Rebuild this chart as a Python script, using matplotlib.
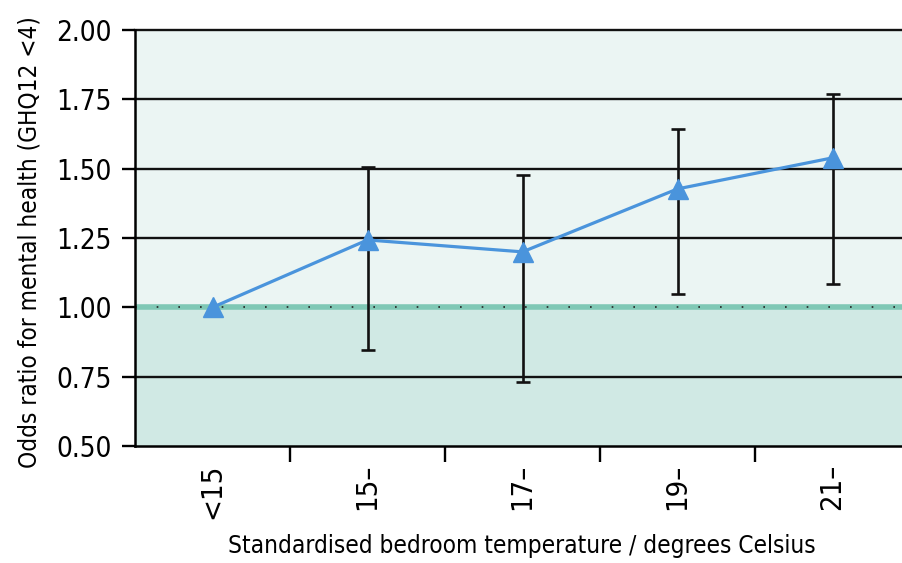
import matplotlib
matplotlib.use("Agg")
import matplotlib.pyplot as plt
import numpy as np

categories = ["<15", "15–", "17–", "19–", "21–"]
odds = [1.00, 1.243, 1.20, 1.427, 1.539]
ci_low = [1.00, 0.846, 0.731, 1.048, 1.084]
ci_high = [1.00, 1.506, 1.477, 1.643, 1.769]
yticks = [0.50, 0.75, 1.00, 1.25, 1.50, 1.75, 2.00]

plt.rcParams["font.family"] = ["DejaVu Sans"]
plt.rcParams["font.stretch"] = "condensed"

fig = plt.figure(figsize=(9.02, 5.63), dpi=100)
ax = fig.add_axes([135/902, (563-446)/563, (910-135)/902, (446-30)/563])
ax.set_xlim(-0.5, 4.5)
ax.set_ylim(0.5, 2.0)

ax.axhspan(1.0, 2.0, color="#ebf5f3", zorder=0)
ax.axhspan(0.5, 1.0, color="#d0e9e4", zorder=0)

for v in yticks:
    if v in (0.5, 1.0):
        continue
    ax.axhline(v, color="#111111", lw=1.7, zorder=1, clip_on=False)
ax.axhline(1.0, color="#7fc8b5", lw=4, zorder=1)
ax.axhline(1.0, color="#222222", lw=1.2, ls=(0, (1, 12)), zorder=1.5)

x = np.arange(len(categories))
yerr = [np.array(odds) - np.array(ci_low), np.array(ci_high) - np.array(odds)]
ax.errorbar(x[1:], odds[1:], yerr=[yerr[0][1:], yerr[1][1:]], fmt="none",
            ecolor="#111111", elinewidth=1.9, capsize=5, capthick=1.9, zorder=2)
ax.plot(x, odds, color="#4a94dc", lw=2.3, marker="^", markersize=15,
        markeredgecolor="#4a94dc", zorder=3, clip_on=False)

for s in ["top", "right"]:
    ax.spines[s].set_visible(False)
ax.spines["left"].set_linewidth(1.8)
ax.spines["bottom"].set_linewidth(1.8)

ax.set_yticks(yticks)
ax.set_yticklabels([f"{v:.2f}" for v in yticks], fontsize=20)
ax.tick_params(axis="y", length=9.5, width=1.7, pad=7)

ax.set_xticks(x)
ax.set_xticklabels(categories, rotation=90, fontsize=21)
ax.tick_params(axis="x", length=0, pad=13)
ax.set_xticks(np.arange(0.5, 4.5, 1.0), minor=True)
ax.tick_params(axis="x", which="minor", length=11.5, width=1.7)

ax.set_xlabel("Standardised bedroom temperature / degrees Celsius", fontsize=17.5)
ax.xaxis.set_label_coords((522-135)/775, -(534-446)/416)
ax.set_ylabel("Odds ratio for mental health (GHQ12 <4)", fontsize=17.5)
ax.yaxis.set_label_coords(-(135-42)/775, (446-242)/416)

fig.savefig("out.png", dpi=100)
